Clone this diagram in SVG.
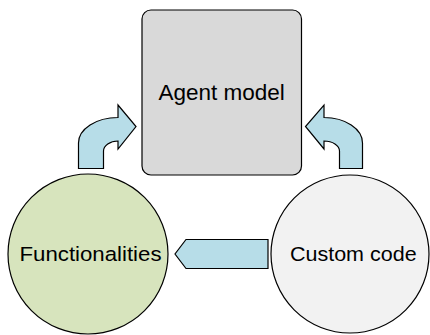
<svg xmlns="http://www.w3.org/2000/svg" width="430" height="335" viewBox="0 0 430 335">
<style>
.shape{stroke:#000;stroke-width:1.2}
.arrow{fill:#b7dde8;stroke:#000;stroke-width:1.2;stroke-linejoin:miter}
.lbl{font-family:"Liberation Sans",Arial,sans-serif;fill:#000;text-anchor:middle}
</style>
<rect width="430" height="335" fill="#fff"/>
<g id="connectors">
<path id="arrow-left" class="arrow" d="M 78.5,168.5 L 78.5,143 A 39.5,25.5 0 0 1 118,117.5 L 118,105 L 136,126.5 L 118,149 L 118,141 A 14.5,10 0 0 0 103.5,151 L 103.5,168.5 Z"/>
<path id="arrow-right" class="arrow" d="M 362.5,168.5 L 362.5,143 A 38.5,25.5 0 0 0 324,117.5 L 324,105 L 305.5,126.5 L 324,149 L 324,141 A 15.5,10 0 0 1 339.5,151 L 339.5,168.5 Z"/>
<path id="arrow-bottom" class="arrow" d="M 268,239.5 L 186,239.5 L 175,254 L 186,268.5 L 268,268.5 Z"/>
</g>
<g id="agent-model">
<rect class="shape" x="142" y="10" width="159.5" height="165" rx="9" fill="#d9d9d9"/>
<text class="lbl" x="221.7" y="100" font-size="22.5">Agent model</text>
</g>
<g id="functionalities">
<circle class="shape" cx="88" cy="254" r="80" fill="#d7e4bd"/>
<text class="lbl" x="90.5" y="260.7" font-size="20.5" textLength="142" lengthAdjust="spacingAndGlyphs">Functionalities</text>
</g>
<g id="custom-code">
<circle class="shape" cx="350" cy="254" r="79" fill="#f2f2f2"/>
<text class="lbl" x="353.3" y="260.7" font-size="20.5" textLength="126.7" lengthAdjust="spacingAndGlyphs">Custom code</text>
</g>
</svg>
